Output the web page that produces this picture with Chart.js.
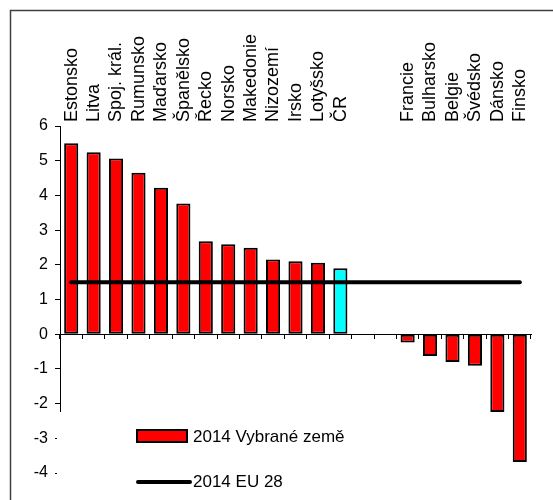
<!DOCTYPE html>
<html>
<head>
<meta charset="utf-8">
<script src="https://cdn.jsdelivr.net/npm/chart.js@4"></script>
<style>
  html, body { margin: 0; padding: 0; background: #fff; }
  #wrap { width: 553px; height: 500px; }
</style>
</head>
<body>
<div id="wrap"><canvas id="c" width="553" height="500"></canvas></div>
<script>
// categories (two empty slots separate the two groups)
const categories = ['Estonsko','Litva','Spoj. král.','Rumunsko','Maďarsko','Španělsko','Řecko',
  'Norsko','Makedonie','Nizozemí','Irsko','Lotyšsko','ČR','','',
  'Francie','Bulharsko','Belgie','Švédsko','Dánsko','Finsko'];

const countryValues = [5.5, 5.24, 5.06, 4.65, 4.22, 3.77, 2.68, 2.59, 2.49, 2.15, 2.1, 2.06, 1.9, null, null,
  -0.24, -0.63, -0.8, -0.91, -2.24, -3.68];

const euValues = [1.5, 1.5, 1.5, 1.5, 1.5, 1.5, 1.5, 1.5, 1.5, 1.5, 1.5, 1.5, 1.5, 1.5, 1.5,
  1.5, 1.5, 1.5, 1.5, 1.5, 1.5];

const seriesNames = ['2014 Vybrané země', '2014 EU 28'];
const yTicks = { min: -4, max: 6, step: 1 };

const FONT = '"Liberation Sans", Arial, sans-serif';
const RED  = '#ff0000';
const CYAN = '#00ffff';

// ── Rámeček ──────────────────────────────────────────────────
const framePlugin = {
  id: 'frame',
  beforeDraw(chart) {
    const ctx = chart.ctx;
    ctx.save();
    ctx.fillStyle = '#fff';
    ctx.fillRect(0, 0, chart.width, chart.height);
    ctx.strokeStyle = '#404040';
    ctx.lineWidth = 1.5;
    ctx.beginPath();
    ctx.moveTo(10.5, chart.height);
    ctx.lineTo(10.5, 10.5);
    ctx.lineTo(chart.width, 10.5);
    ctx.stroke();
    ctx.restore();
  }
};

// ── Legenda (bílé pozadí přes spodek osy) ────────────────────
const legendPlugin = {
  id: 'boxLegend',
  afterDraw(chart) {
    const ctx  = chart.ctx;
    const bars = chart.data.datasets.find(d => d.type !== 'line');
    const line = chart.data.datasets.find(d => d.type === 'line');
    ctx.save();
    ctx.fillStyle = '#fff';
    ctx.fillRect(57, 412, 313, 88);

    ctx.font = '17px ' + FONT;
    ctx.textBaseline = 'middle';

    // bar sample
    ctx.fillStyle = RED;
    ctx.fillRect(137, 430, 50, 12);
    ctx.strokeStyle = '#000';
    ctx.lineWidth = 2;
    ctx.strokeRect(137, 430, 50, 12);
    ctx.fillStyle = '#000';
    ctx.fillText(bars.label, 193, 437);

    // line sample
    ctx.lineWidth = 4;
    ctx.lineCap = 'round';
    ctx.beginPath();
    ctx.moveTo(138, 482);
    ctx.lineTo(190, 482);
    ctx.stroke();
    ctx.fillText(line.label, 193, 482);
    ctx.restore();
  }
};

new Chart(document.getElementById('c'), {
  type: 'bar',
  data: {
    labels: categories,
    datasets: [
      {
        type: 'line',
        label: seriesNames[1],
        data: euValues,
        borderColor: '#000',
        borderWidth: 4,
        borderCapStyle: 'round',
        pointRadius: 0,
        fill: false,
        order: 0
      },
      {
        type: 'bar',
        label: seriesNames[0],
        data: countryValues,
        backgroundColor: categories.map(c => c === 'ČR' ? CYAN : RED),
        borderColor: '#000',
        borderWidth: 2,
        borderSkipped: false,
        categoryPercentage: 1,
        barPercentage: 0.63,
        order: 1
      }
    ]
  },
  options: {
    responsive: false,
    animation: false,
    devicePixelRatio: 1,
    layout: { padding: { left: 0, top: 0, right: 22, bottom: 27 } },
    plugins: { legend: { display: false }, tooltip: { enabled: false } },
    scales: {
      x: {
        position: { y: 0 },
        offset: true,
        grid: { offset: true, drawOnChartArea: false, drawTicks: true, tickLength: 4, color: '#000' },
        border: { display: true, color: '#000', width: 1 },
        ticks: { display: false }
      },
      x2: {
        type: 'category',
        position: 'top',
        labels: categories,
        offset: true,
        grid: { display: false, drawTicks: false },
        border: { display: false },
        ticks: {
          autoSkip: false, minRotation: 90, maxRotation: 90, padding: 4, labelOffset: 22,
          color: '#000', font: { family: FONT, size: 18 }
        },
        afterFit: s => { s.height = 126; }
      },
      y: {
        min: yTicks.min, max: yTicks.max,
        grid: { drawOnChartArea: false, drawTicks: true, tickLength: 5, color: '#000' },
        border: { display: true, color: '#000', width: 1 },
        ticks: { stepSize: yTicks.step, padding: 7, color: '#000', font: { family: FONT, size: 16 } },
        afterFit: s => { s.width = 60; }
      }
    }
  },
  plugins: [framePlugin, legendPlugin]
});
</script>
</body>
</html>
